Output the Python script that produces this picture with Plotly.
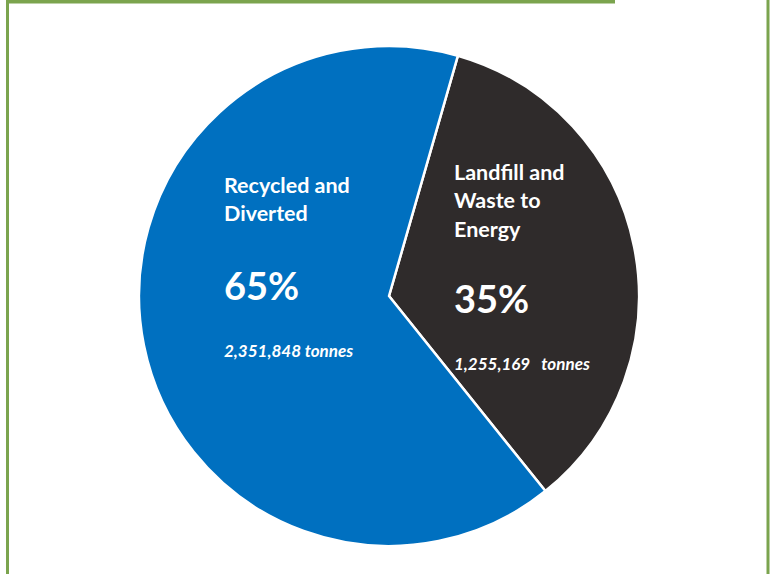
import plotly.graph_objects as go

# Data
categories = ["Landfill and Waste to Energy", "Recycled and Diverted"]
label_lines = [["Landfill and", "Waste to", "Energy"], ["Recycled and", "Diverted"]]
tonnes = [1255169, 2351848]
colors = ["#2F2B2B", "#0070C0"]

W, H = 773, 574
total = sum(tonnes)
pcts = [round(v / total * 100) for v in tonnes]

cx, cy, r = 389, 296, 250

fig = go.Figure(go.Pie(
    labels=categories,
    values=tonnes,
    sort=False,
    direction="clockwise",
    rotation=16,
    textinfo="none",
    marker=dict(colors=colors, line=dict(color="white", width=2.5)),
    domain=dict(x=[(cx - r) / W, (cx + r) / W], y=[1 - (cy + r) / H, 1 - (cy - r) / H]),
    showlegend=False,
))

def px(x):
    return x / W

def py(y):
    return 1 - y / H

FONT = "Lato"
ann = []

def add(text, x, y, size, bold=True, italic=False):
    t = text
    if italic:
        t = "<i>" + t + "</i>"
    if bold:
        t = "<b>" + t + "</b>"
    ann.append(dict(text=t, x=px(x), y=py(y), xref="paper", yref="paper",
                    xanchor="left", yanchor="middle", showarrow=False,
                    font=dict(family=FONT, size=size, color="white")))

# Recycled (index 1) — left
lx = 222
for i, line in enumerate(label_lines[1]):
    add(line, lx, 185 + i * 28, 21.5)
add(f"{pcts[1]}%", lx, 285, 38)
add(f"{tonnes[1]:,} tonnes", lx, 350, 17, italic=True)

# Landfill (index 0) — right
rx = 452
for i, line in enumerate(label_lines[0]):
    add(line, rx, 171.5 + i * 28.5, 21.5)
add(f"{pcts[0]}%", rx, 298, 38)
add(f"{tonnes[0]:,}&nbsp;&nbsp;&nbsp;tonnes", rx, 363.5, 17, italic=True)

green = "#7BA44E"
shapes = [
    dict(type="rect", xref="paper", yref="paper", x0=px(6), x1=px(615), y0=py(0), y1=py(3.5),
         fillcolor=green, line=dict(width=0)),
    dict(type="rect", xref="paper", yref="paper", x0=px(6), x1=px(9), y0=py(0), y1=py(574),
         fillcolor=green, line=dict(width=0)),
    dict(type="rect", xref="paper", yref="paper", x0=px(766.5), x1=px(769.5), y0=py(0), y1=py(574),
         fillcolor=green, line=dict(width=0)),
]

fig.update_layout(
    width=W, height=H,
    margin=dict(l=0, r=0, t=0, b=0),
    paper_bgcolor="white", plot_bgcolor="white",
    annotations=ann, shapes=shapes,
)

fig.write_html("out.html", config={"displayModeBar": False},
               post_script="document.body.style.margin='0';document.body.style.overflow='hidden';")
